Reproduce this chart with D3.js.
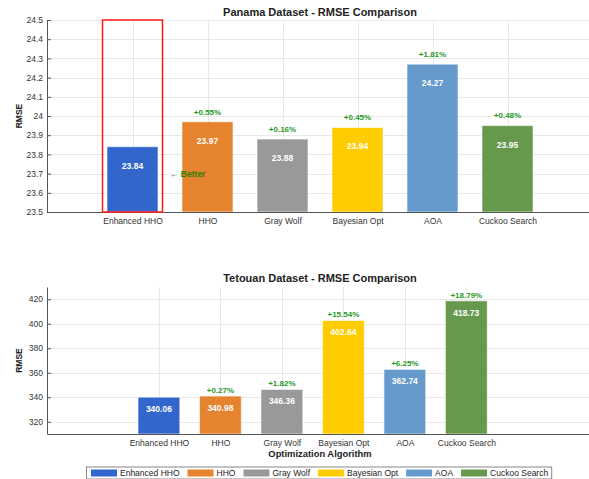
<!DOCTYPE html>
<html>
<head>
<meta charset="utf-8">
<script src="https://cdn.jsdelivr.net/npm/d3@7"></script>
<style>
  body { margin: 0; background: #fff; }
  text { font-family: "Liberation Sans", Arial, Helvetica, sans-serif; }
</style>
</head>
<body>
<div class="home"></div>
<script>
// chart data
const algorithms = ["Enhanced HHO", "HHO", "Gray Wolf", "Bayesian Opt", "AOA", "Cuckoo Search"];
const colors = ["#3366cc", "#e6832f", "#999999", "#ffcc00", "#6699cc", "#66994d"];
const panamaRmse = [23.84, 23.97, 23.88, 23.94, 24.27, 23.95];
const panamaPct = [null, "+0.55%", "+0.16%", "+0.45%", "+1.81%", "+0.48%"];
const panamaTicks = [23.5, 23.6, 23.7, 23.8, 23.9, 24, 24.1, 24.2, 24.3, 24.4, 24.5];
const tetouanRmse = [340.06, 340.98, 346.36, 402.64, 362.74, 418.73];
const tetouanPct = [null, "+0.27%", "+1.82%", "+15.54%", "+6.25%", "+18.79%"];
const tetouanTicks = [320, 340, 360, 380, 400, 420];

const width = 589;
const height = 479;

const svg = d3.select(".home").append("svg")
  .attr("width", width)
  .attr("height", height);

svg.append("rect").attr("width", width).attr("height", height).attr("fill", "#fff");

// draws one panel of the figure
function drawPanel(opt) {
  const x = d3.scaleLinear().domain(opt.xDomain).range([47, 593]);
  const y = d3.scaleLinear().domain(opt.yDomain).range([opt.bottom, opt.top]);
  const bw = 0.68;
  const g = svg.append("g");

  // horizontal grid
  g.selectAll(".hgrid").data(opt.ticks).enter().append("line")
    .attr("x1", 47).attr("x2", 593)
    .attr("y1", d => Math.round(y(d)) + 0.5).attr("y2", d => Math.round(y(d)) + 0.5)
    .style("stroke", "#e8e8e8");
  // vertical grid at categories
  g.selectAll(".vgrid").data(algorithms).enter().append("line")
    .attr("x1", (d, i) => Math.round(x(i + 1)) + 0.5).attr("x2", (d, i) => Math.round(x(i + 1)) + 0.5)
    .attr("y1", opt.top).attr("y2", opt.bottom)
    .style("stroke", "#e8e8e8");

  // bars
  g.selectAll(".bar").data(opt.values).enter().append("rect")
    .attr("x", (d, i) => x(i + 1 - bw / 2))
    .attr("width", x(bw) - x(0))
    .attr("y", d => y(d))
    .attr("height", d => opt.bottom - y(d))
    .style("fill", (d, i) => colors[i])
    .style("stroke", "#ffffff")
    .style("stroke-opacity", 0.6)
    .style("stroke-width", 1);

  // values in bars
  g.selectAll(".val").data(opt.values).enter().append("text")
    .attr("x", (d, i) => x(i + 1))
    .attr("y", d => y(d) + opt.valOffset)
    .attr("dy", "0.35em")
    .style("text-anchor", "middle")
    .style("font-size", "8.5px")
    .style("font-weight", "bold")
    .style("fill", "#ffffff")
    .text(d => d.toFixed(2));

  // percentage labels above bars (all but the reference algorithm)
  const pctData = opt.values.map((v, i) => ({ v: v, i: i, label: opt.pct[i] }))
    .filter(d => d.label !== null);
  g.selectAll(".pct").data(pctData).enter().append("text")
    .attr("x", d => x(d.i + 1))
    .attr("y", d => y(d.v) - opt.pctOffset)
    .attr("dy", "0.35em")
    .style("text-anchor", "middle")
    .style("font-size", "8px")
    .style("font-weight", "bold")
    .style("fill", "#1f9a1f")
    .text(d => d.label);

  // axes
  const yAxis = d3.axisLeft(y)
    .tickValues(opt.ticks)
    .tickSizeInner(-4).tickSizeOuter(0).tickPadding(4)
    .tickFormat(d => String(+d.toFixed(1)));
  const ya = g.append("g").attr("transform", "translate(47,0)").call(yAxis);
  const xAxis = d3.axisBottom(x)
    .tickValues(d3.range(1, algorithms.length + 1))
    .tickSizeInner(0).tickSizeOuter(0).tickPadding(6)
    .tickFormat(d => algorithms[d - 1]);
  const xa = g.append("g").attr("transform", "translate(0," + opt.bottom + ")").call(xAxis);
  [ya, xa].forEach(a => {
    a.select(".domain").style("stroke", "#555").style("stroke-width", 1);
    a.selectAll(".tick line").style("stroke", "#555");
    a.selectAll("text").style("font-size", "8.5px").style("fill", "#333")
      .style("font-family", "Liberation Sans, Arial, sans-serif");
  });

  // title
  g.append("text")
    .attr("x", 320).attr("y", opt.titleY).attr("dy", "0.35em")
    .style("text-anchor", "middle")
    .style("font-size", "11px").style("font-weight", "bold").style("fill", "#222")
    .text(opt.title);

  // y label
  g.append("text")
    .attr("transform", "translate(19," + (opt.top + opt.bottom) / 2 + ") rotate(-90)")
    .attr("dy", "0.35em")
    .style("text-anchor", "middle")
    .style("font-size", "8.5px").style("font-weight", "bold").style("fill", "#222")
    .text("RMSE");

  return { g: g, x: x, y: y };
}

// Panama panel
const top1 = drawPanel({
  title: "Panama Dataset - RMSE Comparison", titleY: 12,
  values: panamaRmse, pct: panamaPct, ticks: panamaTicks,
  xDomain: [-0.14, 7.14], yDomain: [23.5, 24.5],
  top: 20, bottom: 212, valOffset: 19, pctOffset: 10
});

// highlight best algorithm
top1.g.append("rect")
  .attr("x", top1.x(0.6)).attr("width", top1.x(1.4) - top1.x(0.6))
  .attr("y", 20).attr("height", 192)
  .style("fill", "none").style("stroke", "#ff1a1a").style("stroke-width", 1.5);

top1.g.append("text")
  .attr("x", top1.x(1.5)).attr("y", top1.y(23.7)).attr("dy", "0.35em")
  .style("font-size", "8.5px").style("font-weight", "bold").style("fill", "#2b7a0b")
  .text("\u2190 Better");

// Tetouan panel
drawPanel({
  title: "Tetouan Dataset - RMSE Comparison", titleY: 278,
  values: tetouanRmse, pct: tetouanPct, ticks: tetouanTicks,
  xDomain: [-0.82, 8.06], yDomain: [310, 430],
  top: 287, bottom: 434, valOffset: 12, pctOffset: 6
});

svg.append("text")
  .attr("x", 320).attr("y", 454).attr("dy", "0.35em")
  .style("text-anchor", "middle")
  .style("font-size", "9.4px").style("font-weight", "bold").style("fill", "#222")
  .text("Optimization Algorithm");

// legend
const legend = svg.append("g");
const legendBox = legend.append("rect")
  .attr("y", 467).attr("height", 12)
  .style("fill", "#fff").style("stroke", "#888").style("stroke-width", 1);
let lx = 0;
algorithms.forEach((name, i) => {
  legend.append("rect")
    .attr("x", lx).attr("y", 469.5).attr("width", 26).attr("height", 7)
    .style("fill", colors[i]);
  const t = legend.append("text")
    .attr("x", lx + 29).attr("y", 473).attr("dy", "0.35em")
    .style("font-size", "8.5px").style("fill", "#222")
    .text(name);
  lx += 29 + t.node().getComputedTextLength() + 8;
});
const total = lx - 8;
const startX = 91;
legend.selectAll("rect:not(:first-child), text").attr("transform", "translate(" + startX + ",0)");
legendBox.attr("x", startX - 4.5).attr("width", total + 8);
</script>
</body>
</html>
